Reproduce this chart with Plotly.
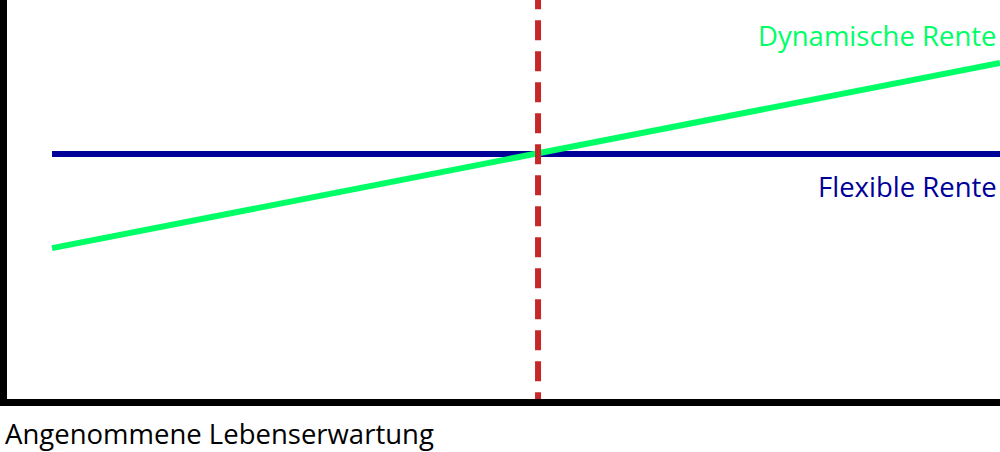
import plotly.graph_objects as go

# Data (abstract scale: x = 0..1 along life expectancy, y = 0..100 pension level)
x_span = [0.0, 1.0]
flexible = [61.4, 61.4]
dynamic = [37.8, 84.2]
crossover_x = 0.5127
y_range = [0, 100]
x_range = [-0.0475, 1.0]

labels = {
    "dynamic": "Dynamische Rente",
    "flexible": "Flexible Rente",
    "xtitle": "Angenommene Lebenserwartung",
}

BLUE = "#000099"
GREEN = "#00FF66"
RED = "#C62828"
FONT = "Open Sans"
FS = 27.5

fig = go.Figure()
fig.add_trace(go.Scatter(x=x_span, y=flexible, mode="lines",
                         line=dict(color=BLUE, width=6), hoverinfo="skip"))
fig.add_trace(go.Scatter(x=x_span, y=dynamic, mode="lines",
                         line=dict(color=GREEN, width=6), hoverinfo="skip"))
fig.add_trace(go.Scatter(x=[crossover_x, crossover_x], y=[y_range[1] + 2.7, y_range[0]],
                         mode="lines", line=dict(color=RED, width=6, dash="20px,11px"),
                         hoverinfo="skip", cliponaxis=True))

fig.add_annotation(x=1.0, y=dynamic[1], xref="x", yref="y", text=labels["dynamic"],
                   showarrow=False, xanchor="right", yanchor="bottom", yshift=7, xshift=-1,
                   font=dict(family=FONT, size=FS, color=GREEN))
fig.add_annotation(x=1.0, y=flexible[1], xref="x", yref="y", text=labels["flexible"],
                   showarrow=False, xanchor="right", yanchor="top", yshift=-12, xshift=-1,
                   font=dict(family=FONT, size=FS, color=BLUE))
fig.add_annotation(x=0, y=0, xref="paper", yref="paper", text=labels["xtitle"],
                   showarrow=False, xanchor="left", yanchor="top", xshift=-4, yshift=-14,
                   font=dict(family=FONT, size=FS, color="black"))

fig.update_xaxes(range=x_range, showgrid=False, zeroline=False, showticklabels=False,
                 ticks="", showline=True, linecolor="black", linewidth=7)
fig.update_yaxes(range=y_range, showgrid=False, zeroline=False, showticklabels=False,
                 ticks="", showline=True, linecolor="black", linewidth=7)

fig.update_layout(width=1000, height=452, showlegend=False,
                  margin=dict(l=7, r=0, t=0, b=53),
                  plot_bgcolor="white", paper_bgcolor="white",
                  font=dict(family=FONT))

fig.write_html("out.html", config={"displayModeBar": False},
               post_script="document.body.style.margin='0';document.body.style.overflow='hidden';")
